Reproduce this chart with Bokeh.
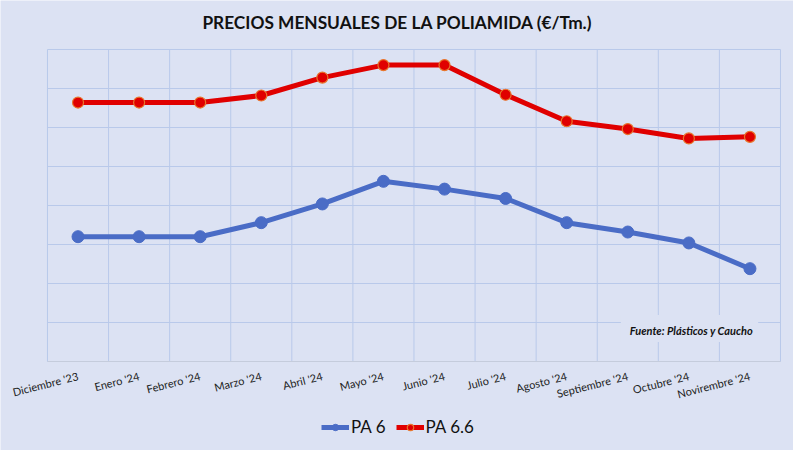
from bokeh.plotting import figure
from bokeh.models import FixedTicker, Range1d, Legend, LegendItem, Label
from bokeh.embed import file_html
from bokeh.resources import INLINE

months = ["Diciembre '23", "Enero '24", "Febrero '24", "Marzo '24", "Abril '24", "Mayo '24",
          "Junio '24", "Julio '24", "Agosto '24", "Septiembre '24", "Octubre '24", "Novirembre '24"]
pa66 = [2660, 2660, 2660, 2705, 2820, 2900, 2900, 2710, 2540, 2490, 2430, 2440]
pa6 = [1800, 1800, 1800, 1890, 2010, 2155, 2105, 2045, 1890, 1830, 1760, 1595]
y_ticks = [1000, 1250, 1500, 1750, 2000, 2250, 2500, 2750, 3000]

# view extents (extra room around the grid for title, month labels and legend)
x_view = (-0.769, 12.213)
y_view = (429.5, 3314.1)

BG = "#DCE2F3"
GRID = "#B9C9EA"
FONT = "Lato"

n = len(months)
xs = [i + 0.5 for i in range(n)]
x_bounds = list(range(n + 1))

p = figure(width=793, height=450, output_backend="svg", toolbar_location=None,
           x_range=Range1d(*x_view), y_range=Range1d(*y_view),
           min_border_left=0, min_border_right=0, min_border_top=0, min_border_bottom=0)
p.background_fill_color = BG
p.border_fill_color = BG
p.outline_line_color = None
p.title.visible = False

p.yaxis.visible = False
p.xgrid.visible = False
p.ygrid.visible = False

# chart grid limited to the plotting area (category boundaries and value levels)
p.segment(x0=x_bounds, x1=x_bounds, y0=[y_ticks[0]] * len(x_bounds), y1=[y_ticks[-1]] * len(x_bounds),
          line_color=GRID, line_width=1, level="underlay")
p.segment(x0=[x_bounds[0]] * len(y_ticks), x1=[x_bounds[-1]] * len(y_ticks), y0=y_ticks, y1=y_ticks,
          line_color=GRID, line_width=1, level="underlay")

p.xaxis.fixed_location = y_ticks[0]
p.xaxis.bounds = (x_bounds[0], x_bounds[-1])
p.xaxis.ticker = FixedTicker(ticks=xs)
p.xaxis.major_label_overrides = {x: m for x, m in zip(xs, months)}
p.xaxis.major_label_orientation = 0.25
p.xaxis.major_tick_line_color = None
p.xaxis.minor_tick_line_color = None
p.xaxis.axis_line_color = "#C5CCDC"
p.xaxis.major_label_text_font = FONT
p.xaxis.major_label_text_font_size = "11px"
p.xaxis.major_label_text_color = "#222222"
p.xaxis.major_label_standoff = 8

l6 = p.line(xs, pa6, line_color="#4A6CC6", line_width=5)
c6 = p.scatter(xs, pa6, size=12, fill_color="#4A6CC6", line_color="#4A6CC6")
l66 = p.line(xs, pa66, line_color="#E00000", line_width=5)
c66 = p.scatter(xs, pa66, size=11, fill_color="#E00000", line_color="#E8762C", line_width=1.2)

title = Label(x=397, y=428, x_units="screen", y_units="screen",
              text="PRECIOS MENSUALES DE LA POLIAMIDA (€/Tm.)",
              text_font=FONT, text_font_size="17.3px", text_font_style="bold",
              text_align="center", text_baseline="middle", text_color="#111111")
p.add_layout(title)

legend = Legend(items=[LegendItem(label="PA 6", renderers=[l6, c6]),
                       LegendItem(label="PA 6.6", renderers=[l66, c66])],
                orientation="horizontal", location=(321, 13))
legend.padding = 0
legend.margin = 0
legend.spacing = 10
legend.glyph_width = 28
legend.glyph_height = 16
legend.label_standoff = 2
legend.label_text_font = FONT
legend.label_text_font_size = "17px"
legend.label_text_color = "#111111"
legend.background_fill_alpha = 0
legend.border_line_color = None
p.add_layout(legend, "center")

src = Label(x=689, y=122, x_units="screen", y_units="screen", text="Fuente: Plásticos y Caucho",
            text_font=FONT, text_font_size="11px", text_font_style="bold italic",
            text_align="center", text_baseline="middle", text_color="#111111",
            background_fill_color=BG, padding=(9, 5, 9, 5))
p.add_layout(src)

open("out.html", "w").write(file_html(p, INLINE))
